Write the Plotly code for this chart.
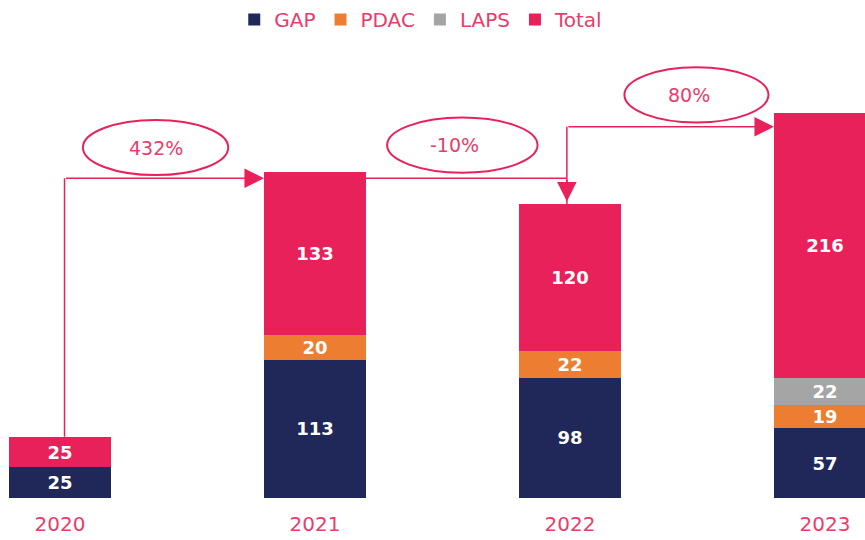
import plotly.graph_objects as go

years = ["2020", "2021", "2022", "2023"]
gap = [25, 113, 98, 57]
pdac = [None, 20, 22, 19]
laps = [None, None, None, 22]
total = [25, 133, 120, 216]
growth = ["432%", "-10%", "80%"]

PINK = "#E8215A"
TXT = "#E83D6B"
NAVY = "#1F2859"
ORANGE = "#ED7D31"
GREY = "#A5A5A5"
FONT = "DejaVu Sans"

x = list(range(len(years)))
fig = go.Figure()
for name, vals, col in [("GAP", gap, NAVY), ("PDAC", pdac, ORANGE),
                        ("LAPS", laps, GREY), ("Total", total, PINK)]:
    fig.add_trace(go.Bar(
        x=x, y=vals, name=name, marker=dict(color=col, line=dict(width=0)),
        width=0.4, text=[("" if v is None else str(v)) for v in vals],
        textposition="inside", insidetextanchor="middle", constraintext="none",
        textangle=0,
        textfont=dict(family=FONT, size=18, color="white", weight="bold"),
        hoverinfo="skip"))

tops = []
for i in range(len(years)):
    tops.append(sum(v for v in (gap[i], pdac[i], laps[i], total[i]) if v))

half = 0.2
levels = [261, 261, 303]
line = dict(color=PINK, width=1.5)
shapes = []
annotations = []
arrow = dict(showarrow=True, arrowhead=2, arrowsize=2.6, arrowwidth=1.5, arrowcolor=PINK, text="",
             xref="x", yref="y", axref="x", ayref="y")
shapes.append(dict(type="line", xref="x", yref="y", x0=0.018, x1=0.018, y0=tops[0], y1=levels[0], line=line))
annotations.append(dict(x=1 - half, y=levels[0], ax=0.018, ay=levels[0], **arrow))
shapes.append(dict(type="line", xref="x", yref="y", x0=1 + half, x1=1.988, y0=levels[1], y1=levels[1], line=line))
annotations.append(dict(x=1.988, y=tops[2] + 2, ax=1.988, ay=levels[1], **arrow))
shapes.append(dict(type="line", xref="x", yref="y", x0=1.988, x1=1.988, y0=tops[2], y1=levels[2], line=line))
annotations.append(dict(x=3 - half, y=levels[2], ax=1.988, ay=levels[2], **arrow))

ell_cx = [0.375, 1.578, 2.496]
ell_cy = [286, 288, 329]
ell_w = [0.57, 0.59, 0.565]
txt_dx = [0.0, -0.03, -0.03]
ell_h = 45
for t, cx, cy, w, dx in zip(growth, ell_cx, ell_cy, ell_w, txt_dx):
    shapes.append(dict(type="circle", xref="x", yref="y", x0=cx - w / 2, x1=cx + w / 2,
                       y0=cy - ell_h / 2, y1=cy + ell_h / 2, line=dict(color=PINK, width=2)))
    annotations.append(dict(x=cx + dx, y=cy, xref="x", yref="y", text=t,
                            showarrow=False, font=dict(family=FONT, size=19, color=TXT)))

fig.update_layout(
    width=865, height=540, barmode="stack", bargap=0.6,
    margin=dict(l=0, r=0, t=60, b=42),
    paper_bgcolor="white", plot_bgcolor="white",
    shapes=shapes, annotations=annotations,
    legend=dict(orientation="h", x=0.487, xanchor="center", y=1.1, yanchor="middle",
                font=dict(family=FONT, size=20, color=TXT), traceorder="normal"),
    xaxis=dict(range=[-0.235, 3.157], tickvals=x, ticktext=years, showgrid=False, zeroline=False,
               showline=False, ticks="outside", ticklen=0, ticklabelstandoff=8,
               tickfont=dict(family=FONT, size=20, color=TXT), fixedrange=True),
    yaxis=dict(range=[0, 355], visible=False, fixedrange=True),
    showlegend=True,
)

fig.write_html("out.html", config={"displayModeBar": False},
               post_script="document.body.style.margin='0';document.body.style.overflow='hidden';")
